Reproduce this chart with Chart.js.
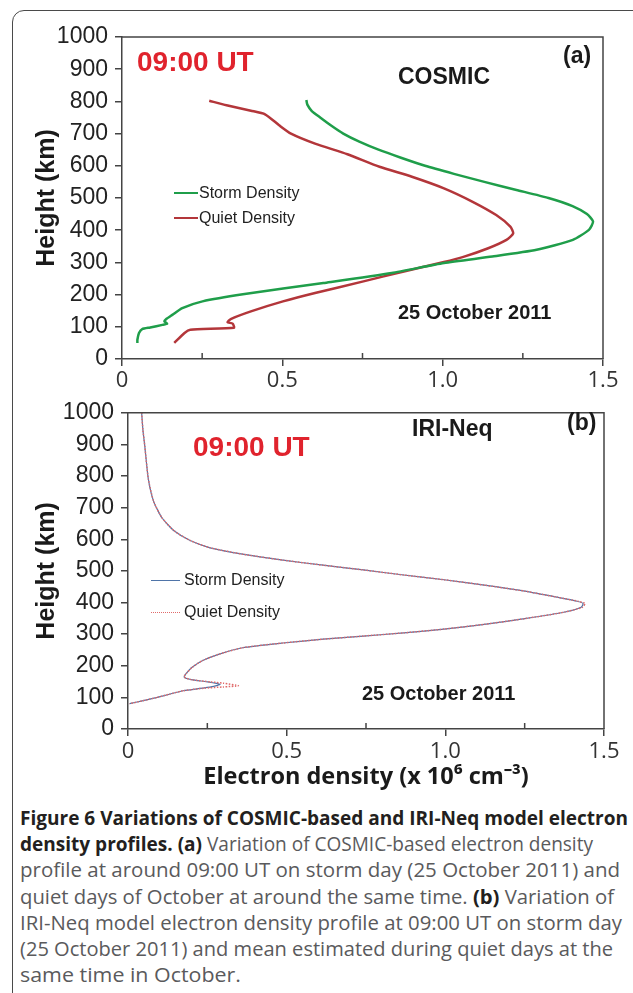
<!DOCTYPE html>
<html>
<head>
<meta charset="utf-8">
<script src="https://cdn.jsdelivr.net/npm/chart.js@4.4.1/dist/chart.umd.min.js"></script>
<style>
  body { margin: 0; background: #fff; width: 633px; height: 993px; overflow: hidden; position: relative; font-family: 'Liberation Sans', Arial, sans-serif; }
  #frame { position: absolute; left: 12px; top: 10px; width: 680px; height: 1020px; border: 1.5px solid #4a4a4a; border-radius: 12px 0 0 0; }
  canvas { position: absolute; left: 0; }
  .t { position: absolute; white-space: nowrap; line-height: 1; transform: translateY(-50%); font-weight: bold; color: #1a1a1a; }
  .red { color: #e0232d; font-size: 28px; }
  .leg { position: absolute; white-space: nowrap; font-size: 16px; color: #222; transform: translateY(-50%); line-height: 1; }
  .legline { position: absolute; height: 0; }
  .cap { position: absolute; left: 20px; white-space: nowrap; font-family: 'Open Sans', 'Noto Sans', sans-serif; font-size: 20px; color: #5a5a5c; transform-origin: 0 50%; line-height: 1; }
  .cap b { color: #231f20; }
</style>
</head>
<body>
<div id="frame"></div>

<canvas id="chartA" width="633" height="392" style="top:0"></canvas>
<canvas id="chartB" width="633" height="400" style="top:392px"></canvas>

<!-- panel (a) labels -->
<div class="t red" style="left:137px; top:62px">09:00 UT</div>
<div class="t" style="left:563px; top:55px; font-size:23px">(a)</div>
<div class="t" style="left:398px; top:76px; font-size:23px">COSMIC</div>
<div class="t" style="left:398px; top:312px; font-size:20px">25 October 2011</div>
<div class="legline" style="left:174px; top:192px; width:24px; border-top:2.5px solid #1f9e4a"></div>
<div class="leg" style="left:199px; top:193px">Storm Density</div>
<div class="legline" style="left:174px; top:217px; width:24px; border-top:2.5px solid #b3363a"></div>
<div class="leg" style="left:199px; top:218px">Quiet Density</div>

<!-- panel (b) labels -->
<div class="t" style="left:412px; top:428px; font-size:23px">IRI-Neq</div>
<div class="t" style="left:567px; top:422px; font-size:23px">(b)</div>
<div class="t red" style="left:193px; top:447px">09:00 UT</div>
<div class="t" style="left:362px; top:693px; font-size:20px">25 October 2011</div>
<div class="legline" style="left:151px; top:580px; width:29px; border-top:1px solid #4f74a8"></div>
<div class="leg" style="left:184px; top:580px">Storm Density</div>
<div class="legline" style="left:151px; top:612px; width:29px; border-top:1.5px dotted #e06a6a"></div>
<div class="leg" style="left:184px; top:612px">Quiet Density</div>

<!-- caption -->
<div class="cap" data-w="608" style="top:808px"><b>Figure 6 Variations of COSMIC-based and IRI-Neq model electron</b></div>
<div class="cap" data-w="573" style="top:834px"><b>density profiles. (a)</b> Variation of COSMIC-based electron density</div>
<div class="cap" data-w="600" style="top:860px">profile at around 09:00 UT on storm day (25 October 2011) and</div>
<div class="cap" data-w="594" style="top:887px">quiet days of October at around the same time. <b>(b)</b> Variation of</div>
<div class="cap" data-w="602" style="top:913px">IRI-Neq model electron density profile at 09:00 UT on storm day</div>
<div class="cap" data-w="593" style="top:939px">(25 October 2011) and mean estimated during quiet days at the</div>
<div class="cap" data-w="221" style="top:965px">same time in October.</div>

<script>
// Panel (a): COSMIC profiles, electron density (x10^6 cm^-3) vs height (km)
const cosmicStormDens = [0.575, 0.578, 0.592, 0.618, 0.652, 0.69, 0.74, 0.8, 0.87, 0.945, 1.035, 1.13, 1.23, 1.33, 1.405, 1.45, 1.469, 1.456, 1.406, 1.293, 1.155, 1.004, 0.841, 0.628, 0.377, 0.251, 0.188, 0.157, 0.138, 0.132, 0.141, 0.126, 0.088, 0.063, 0.053, 0.048, 0.048];
const cosmicStormHeight = [804, 790, 770, 750, 725, 700, 675, 650, 625, 600, 575, 550, 525, 500, 475, 450, 427, 401, 370, 339, 318, 298, 267, 236, 201, 179, 158, 137, 124, 117, 110, 106, 98, 93, 81, 60, 50];
const cosmicQuietDens = [0.272, 0.326, 0.402, 0.446, 0.49, 0.527, 0.602, 0.703, 0.803, 0.904, 1.004, 1.092, 1.167, 1.211, 1.22, 1.199, 1.142, 1.067, 1.004, 0.879, 0.753, 0.602, 0.502, 0.402, 0.339, 0.329, 0.345, 0.349, 0.213, 0.195, 0.163];
const cosmicQuietHeight = [802, 788, 771, 760, 726, 700, 669, 636, 597, 566, 530, 489, 447, 411, 390, 370, 344, 318, 301, 272, 241, 205, 179, 148, 124, 114, 110, 97, 91, 81, 50];

// Panel (b): IRI-Neq profiles
const iriStormDens = [0.043, 0.047, 0.053, 0.064, 0.081, 0.107, 0.145, 0.196, 0.259, 0.361, 0.488, 0.615, 0.742, 0.869, 0.996, 1.123, 1.25, 1.351, 1.415, 1.434, 1.428, 1.377, 1.25, 1.123, 0.996, 0.869, 0.742, 0.615, 0.488, 0.361, 0.285, 0.234, 0.202, 0.183, 0.177, 0.2, 0.25, 0.29, 0.27, 0.24, 0.174, 0.13, 0.092, 0.045, 0.005];
const iriStormHeight = [1000, 946, 894, 791, 719, 668, 627, 596, 573, 553, 534, 518, 503, 487, 472, 455, 436, 417, 404, 397, 385, 370, 349, 331, 316, 304, 294, 284, 272, 257, 236, 216, 195, 175, 164, 156, 149, 141, 135, 130, 121, 110, 100, 89, 80];
const iriQuietDens = [0.043, 0.047, 0.053, 0.064, 0.081, 0.107, 0.145, 0.196, 0.259, 0.361, 0.488, 0.615, 0.742, 0.869, 0.996, 1.123, 1.25, 1.351, 1.418, 1.44, 1.432, 1.377, 1.25, 1.123, 0.996, 0.869, 0.742, 0.615, 0.488, 0.361, 0.285, 0.234, 0.202, 0.183, 0.177, 0.2, 0.26, 0.3, 0.348, 0.3, 0.24, 0.174, 0.13, 0.092, 0.045, 0.005];
const iriQuietHeight = [1000, 946, 894, 791, 719, 668, 627, 596, 573, 553, 534, 518, 503, 487, 472, 455, 436, 417, 404, 397, 385, 370, 349, 331, 316, 304, 294, 284, 272, 257, 236, 216, 195, 175, 164, 156, 149, 145, 137, 133, 129, 121, 110, 100, 89, 80];

const xTicks = [0, 0.5, 1.0, 1.5];
const xTickLabels = ['0', '0.5', '1.0', '1.5'];
const xMinorTicks = [0.25, 0.75, 1.25];

function pts(xs, ys) { return xs.map((x, i) => ({ x: x, y: ys[i] })); }

// plot box (top + right edges) and inward minor ticks on the x axis
const boxPlugin = {
    id: 'box',
    afterDraw(chart) {
        const ctx = chart.ctx, a = chart.chartArea, xs = chart.scales.x;
        ctx.save();
        ctx.strokeStyle = '#444';
        ctx.lineWidth = 1.5;
        ctx.beginPath();
        ctx.moveTo(a.left, a.top);
        ctx.lineTo(a.right, a.top);
        ctx.lineTo(a.right, a.bottom);
        xMinorTicks.forEach(v => {
            const px = xs.getPixelForValue(v);
            ctx.moveTo(px, a.bottom);
            ctx.lineTo(px, a.bottom - 6);
        });
        ctx.stroke();
        ctx.restore();
    }
};

function makeOptions(cfg) {
    return {
        responsive: false,
        animation: false,
        devicePixelRatio: 1,
        layout: { padding: cfg.padding },
        plugins: { legend: { display: false }, tooltip: { enabled: false } },
        elements: { point: { radius: 0 } },
        scales: {
            x: {
                type: 'linear', min: 0, max: 1.5,
                afterBuildTicks: s => { s.ticks = xTicks.map(v => ({ value: v })); },
                ticks: {
                    autoSkip: false, maxRotation: 0, padding: cfg.xPad, color: '#333',
                    font: { family: "'Open Sans', sans-serif", size: 22 },
                    callback: v => xTickLabels[xTicks.indexOf(v)]
                },
                grid: { drawOnChartArea: false, tickLength: 7, color: '#444', lineWidth: 1.5 },
                border: { color: '#444', width: 1.5 },
                title: cfg.xTitle,
                afterFit: s => { s.height = cfg.xHeight; }
            },
            y: {
                min: 0, max: 1000,
                ticks: {
                    stepSize: 100, padding: 7, color: '#222',
                    font: { family: "'Liberation Sans', Arial, sans-serif", size: 23 },
                    callback: v => String(v)
                },
                grid: { drawOnChartArea: false, tickLength: 7, color: '#444', lineWidth: 1.5 },
                border: { color: '#444', width: 1.5 },
                title: {
                    display: true, text: 'Height (km)', color: '#1a1a1a',
                    font: { family: "'Liberation Sans', Arial, sans-serif", size: 25, weight: 'bold' },
                    padding: { top: 32, bottom: 0 }
                },
                afterFit: s => { s.width = cfg.yWidth; }
            }
        }
    };
}

new Chart(document.getElementById('chartA'), {
    type: 'scatter',
    data: {
        datasets: [{
            label: 'Storm Density',
            data: pts(cosmicStormDens, cosmicStormHeight),
            showLine: true, borderColor: '#1f9e4a', borderWidth: 2.5, tension: 0.2
        }, {
            label: 'Quiet Density',
            data: pts(cosmicQuietDens, cosmicQuietHeight),
            showLine: true, borderColor: '#b3363a', borderWidth: 2.5, tension: 0.2
        }]
    },
    options: makeOptions({
        padding: { left: 0, right: 30, top: 37, bottom: 0 },
        xPad: 2, xHeight: 33, yWidth: 122,
        xTitle: { display: false }
    }),
    plugins: [boxPlugin]
});

new Chart(document.getElementById('chartB'), {
    type: 'scatter',
    data: {
        datasets: [{
            label: 'Storm Density',
            data: pts(iriStormDens, iriStormHeight),
            showLine: true, borderColor: '#4f74a8', borderWidth: 1.2, tension: 0.2, order: 1
        }, {
            label: 'Quiet Density',
            data: pts(iriQuietDens, iriQuietHeight),
            showLine: true, borderColor: '#e06a6a', borderWidth: 1.5, borderDash: [1.5, 1.5], tension: 0.2, order: 0
        }]
    },
    options: makeOptions({
        padding: { left: 0, right: 29, top: 14, bottom: 0 },
        xPad: 3, xHeight: 63, yWidth: 128,
        xTitle: {
            display: true, text: 'Electron density (x 10\u2076 cm\u207B\u00B3)', color: '#1a1a1a',
            font: { family: "'Open Sans', sans-serif", size: 23.5, weight: 'bold' },
            padding: { top: 0, bottom: 1 }
        }
    }),
    plugins: [boxPlugin]
});

// squeeze each caption line to the width it has in the figure
document.querySelectorAll('.cap').forEach(el => {
    const w = el.getBoundingClientRect().width;
    el.style.transform = 'scaleX(' + (parseFloat(el.dataset.w) / w) + ')';
});
</script>
</body>
</html>
